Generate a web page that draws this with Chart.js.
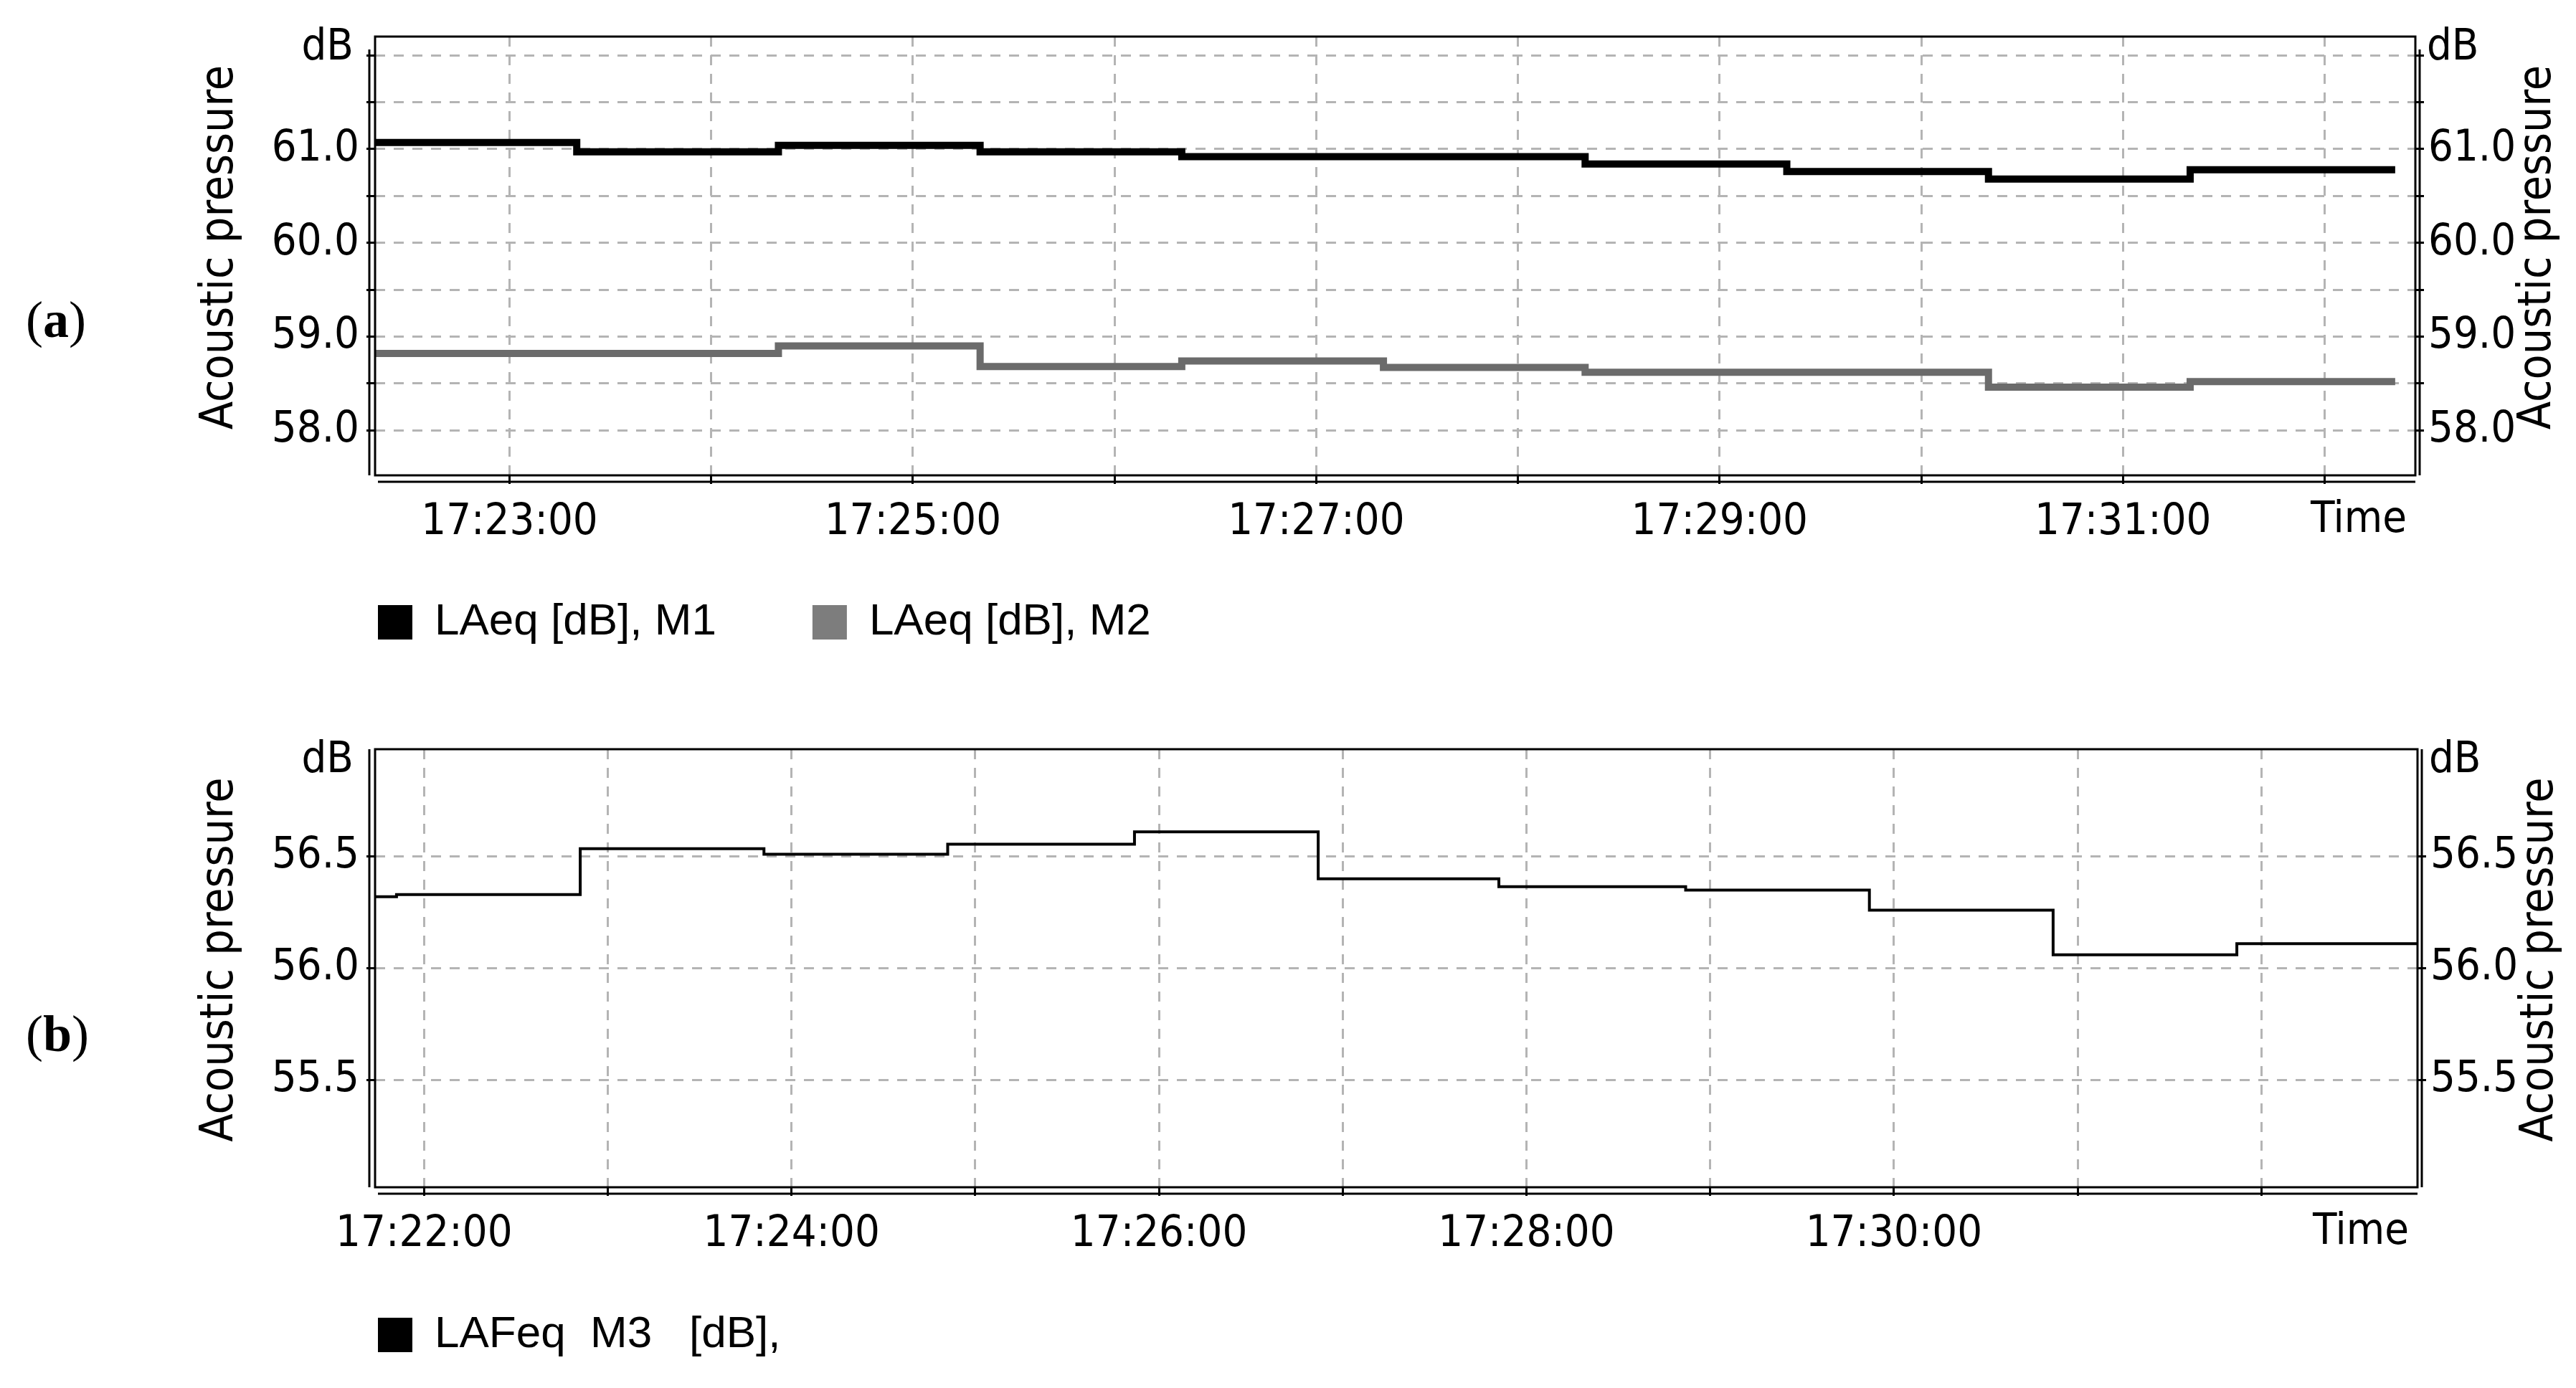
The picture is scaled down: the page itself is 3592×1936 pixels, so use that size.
<!DOCTYPE html>
<html>
<head>
<meta charset="utf-8">
<title>Acoustic pressure</title>
<style>
  html, body { margin: 0; padding: 0; background: #fff; }
  body { position: relative; width: 3592px; height: 1936px; overflow: hidden; }
  canvas { position: absolute; left: 0; }
  #chartA { top: 0; }
  #chartB { top: 960px; }
  .panel { position: absolute; left: 36px; font-family: "Liberation Serif", serif; font-size: 72px; line-height: 72px; color: #000; }
  .panel b { font-weight: bold; }
</style>
</head>
<body>
<canvas id="chartA" width="3592" height="1000"></canvas>
<canvas id="chartB" width="3592" height="976"></canvas>
<div class="panel" style="top:410px">(<b>a</b>)</div>
<div class="panel" style="top:1406px">(<b>b</b>)</div>

<script src="https://cdn.jsdelivr.net/npm/chart.js@4.4.0/dist/chart.umd.min.js"></script>
<script>
// (a) LAeq of M1 and M2, one level per minute, level holds until the next time
const timesA = ['17:22:20', '17:23:20', '17:24:20', '17:25:20', '17:26:20', '17:27:20',
                '17:28:20', '17:29:20', '17:30:20', '17:31:20', '17:32:21'];
const levelsM1 = [61.07, 60.97, 61.04, 60.97, 60.92, 60.92, 60.84, 60.76, 60.68, 60.78];
const levelsM2 = [58.82, 58.82, 58.90, 58.68, 58.74, 58.67, 58.62, 58.62, 58.46, 58.52];
const xGridA = ['17:23:00', '17:24:00', '17:25:00', '17:26:00', '17:27:00',
                '17:28:00', '17:29:00', '17:30:00', '17:31:00', '17:32:00'];
const xLabelsA = ['17:23:00', '17:25:00', '17:27:00', '17:29:00', '17:31:00'];
const yGridA = [58, 58.5, 59, 59.5, 60, 60.5, 61, 61.5, 62];
const yLabelsA = [58, 59, 60, 61];

// (b) LAFeq of M3
const timesB = ['17:21:44', '17:21:51', '17:22:51', '17:23:51', '17:24:51', '17:25:52', '17:26:52',
                '17:27:51', '17:28:52', '17:29:52', '17:30:52', '17:31:52', '17:32:51'];
const levelsM3 = [56.32, 56.33, 56.535, 56.51, 56.555, 56.61, 56.40, 56.365, 56.35, 56.26, 56.06, 56.11];
const xGridB = ['17:22:00', '17:23:00', '17:24:00', '17:25:00', '17:26:00', '17:27:00',
                '17:28:00', '17:29:00', '17:30:00', '17:31:00', '17:32:00'];
const xLabelsB = ['17:22:00', '17:24:00', '17:26:00', '17:28:00', '17:30:00'];
const yGridB = [55.5, 56.0, 56.5];
const yLabelsB = [55.5, 56.0, 56.5];

const axisTitle = 'Acoustic pressure';
const unitLabel = 'dB';
const timeLabel = 'Time';

const FAMILY = '"DejaVu Sans Condensed", "DejaVu Sans", sans-serif';
const TICK_FONT = { family: FAMILY, size: 61 };
const TITLE_SIZE = 64;

function toSec(t) {
    const p = t.split(':').map(Number);
    return p[0] * 3600 + p[1] * 60 + p[2];
}
function hhmmss(s) {
    const two = n => String(Math.floor(n)).padStart(2, '0');
    return two(s / 3600) + ':' + two((s % 3600) / 60) + ':' + two(s % 60);
}
// level i holds from times[i] to times[i+1]
function steps(times, levels) {
    const pts = levels.map((v, i) => ({ x: toSec(times[i]), y: v }));
    pts.push({ x: toSec(times[levels.length]), y: levels[levels.length - 1] });
    return pts;
}

// frame, double axis lines, dB / Time labels and the two rotated titles
const decor = {
    id: 'decor',
    afterLayout(chart, args, o) {
        // put the legend row where the original has it
        const lg = chart.legend;
        const pad = lg.options.labels.padding;
        lg.left = o.legendLeft - pad;
        lg.right = lg.left + lg.width;
        lg.top = o.legendTop - pad;
        lg.bottom = lg.top + lg.height;
    },
    afterDatasetsDraw(chart, args, o) {
        const { ctx, chartArea: a } = chart;
        ctx.save();
        ctx.strokeStyle = '#000';
        ctx.lineWidth = 3;
        ctx.strokeRect(a.left, a.top, a.right - a.left, a.bottom - a.top);
        ctx.beginPath();
        ctx.moveTo(a.left - 8, a.top + o.axisTop);
        ctx.lineTo(a.left - 8, a.bottom);
        ctx.moveTo(a.left + 4, a.bottom + 9);
        ctx.lineTo(a.right, a.bottom + 9);
        ctx.moveTo(a.right + 6, a.top + o.axisTop);
        ctx.lineTo(a.right + 6, a.bottom);
        ctx.stroke();

        ctx.fillStyle = '#000';
        ctx.font = TICK_FONT.size + 'px ' + FAMILY;
        ctx.textBaseline = 'middle';
        ctx.textAlign = 'right';
        ctx.fillText(unitLabel, a.left - 30, a.top + 16);
        ctx.fillText(timeLabel, a.right - 12, a.bottom + 63);
        ctx.textAlign = 'left';
        ctx.fillText(unitLabel, a.right + 16, a.top + 16);

        ctx.font = TITLE_SIZE + 'px ' + FAMILY;
        ctx.textAlign = 'center';
        const cy = (a.top + a.bottom) / 2 - 12;
        [a.left - 216, a.right + 171].forEach(x => {
            ctx.save();
            ctx.translate(x, cy);
            ctx.rotate(-Math.PI / 2);
            ctx.fillText(axisTitle, 0, 0);
            ctx.restore();
        });
        ctx.restore();
    }
};

const gridOpts = { color: '#b4b4b4', lineWidth: 3, tickColor: '#000', tickWidth: 3, tickLength: 12 };

function makeChart(id, p) {
    const yTicks = s => { s.ticks = p.yGrid.map(v => ({ value: v })); };
    const yLabel = v => p.yLabels.includes(v) ? v.toFixed(1) : '';
    return new Chart(document.getElementById(id), {
        type: 'line',
        data: { datasets: p.datasets },
        options: {
            responsive: false,
            animation: false,
            devicePixelRatio: 1,
            layout: { padding: p.padding },
            scales: {
                x: {
                    type: 'linear',
                    min: toSec(p.xMin),
                    max: toSec(p.xMax),
                    afterBuildTicks: s => { s.ticks = p.xGrid.map(t => ({ value: toSec(t) })); },
                    afterFit: s => { s.height = 110; },
                    grid: gridOpts,
                    border: { display: false, dash: [14, 12] },
                    ticks: {
                        autoSkip: false, maxRotation: 0, padding: 18, color: '#000', font: TICK_FONT,
                        callback: v => p.xLabels.includes(hhmmss(v)) ? hhmmss(v) : ''
                    }
                },
                y: {
                    position: 'left',
                    min: p.yMin,
                    max: p.yMax,
                    afterBuildTicks: yTicks,
                    afterFit: s => { s.width = 323; },
                    grid: gridOpts,
                    border: { display: false, dash: [14, 12] },
                    ticks: { padding: 10, color: '#000', font: TICK_FONT, callback: yLabel }
                },
                y2: {
                    position: 'right',
                    min: p.yMin,
                    max: p.yMax,
                    afterBuildTicks: yTicks,
                    afterFit: s => { s.width = p.y2Width; },
                    grid: Object.assign({}, gridOpts, { drawOnChartArea: false }),
                    border: { display: false },
                    ticks: { padding: 6, color: '#000', font: TICK_FONT, callback: yLabel }
                }
            },
            plugins: {
                tooltip: { enabled: false },
                legend: {
                    position: 'bottom',
                    align: 'start',
                    labels: {
                        boxWidth: 48,
                        boxHeight: 48,
                        padding: p.legendPadding,
                        color: '#000',
                        font: { family: '"Liberation Sans", Arial, sans-serif', size: 62 },
                        generateLabels: chart => Chart.defaults.plugins.legend.labels.generateLabels(chart)
                            .map(l => Object.assign(l, { lineWidth: 0 }))
                    }
                },
                decor: { axisTop: p.axisTop, legendLeft: 527, legendTop: p.legendTop }
            }
        },
        plugins: [decor]
    });
}

makeChart('chartA', {
    datasets: [
        {
            label: 'LAeq [dB], M1', data: steps(timesA, levelsM1), stepped: true,
            borderColor: '#000', backgroundColor: '#000', borderWidth: 10, pointRadius: 0, yAxisID: 'y'
        },
        {
            label: 'LAeq [dB], M2', data: steps(timesA, levelsM2), stepped: true,
            borderColor: '#6b6b6b', backgroundColor: '#7d7d7d', borderWidth: 10, pointRadius: 0, yAxisID: 'y'
        }
    ],
    xMin: '17:22:20', xMax: '17:32:27',
    xGrid: xGridA, xLabels: xLabelsA,
    yMin: 57.52, yMax: 62.2, yGrid: yGridA, yLabels: yLabelsA,
    padding: { top: 51, left: 200, right: 0, bottom: 21 },
    y2Width: 224, legendPadding: 134, legendTop: 837, axisTop: 18
});

makeChart('chartB', {
    datasets: [
        {
            label: 'LAFeq  M3   [dB],', data: steps(timesB, levelsM3), stepped: true,
            borderColor: '#000', backgroundColor: '#000', borderWidth: 4, pointRadius: 0, yAxisID: 'y'
        }
    ],
    xMin: '17:21:44', xMax: '17:32:51',
    xGrid: xGridB, xLabels: xLabelsB,
    yMin: 55.02, yMax: 56.98, yGrid: yGridB, yLabels: yLabelsB,
    padding: { top: 85, left: 200, right: 0, bottom: 88 },
    y2Width: 221, legendPadding: 10, legendTop: 871, axisTop: 0
});
</script>
</body>
</html>
